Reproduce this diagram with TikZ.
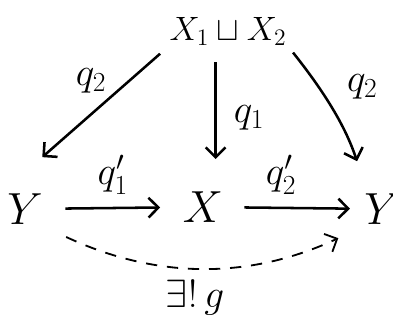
\RequirePackage{fix-cm}
\documentclass[tikz,border=0pt]{standalone}
\usepackage{amsmath,amssymb}
\usetikzlibrary{arrows.meta}
\tikzset{
  obj/.style={inner sep=2pt, font=\fontsize{32}{36}\selectfont},
  topobj/.style={inner sep=2pt, font=\fontsize{24}{28}\selectfont},
  lbl/.style={inner sep=1pt, font=\fontsize{28}{32}\selectfont},
  arr/.style={-{Straight Barb[length=7pt,width=14pt]}, line width=1.8pt}
}
\begin{document}
\begin{tikzpicture}[x=0.025cm, y=-0.025cm]
    \useasboundingbox (0,0) rectangle (393,322);

    % Objects
    \node[topobj] (top) at (228,31) {$X_1\sqcup X_2$};
    \node[obj] (yl) at (25,209) {$Y$};
    \node[obj] (x) at (203,207) {$X$};
    \node[obj] (yr) at (382,209) {$Y$};

    % Edges from the top
    \draw[arr, shorten <=6pt, shorten >=36pt] (top.south west) -- (yl.north west)
        node[lbl, midway, above=17pt, xshift=4pt] {$q_2$};
    \draw[arr, shorten <=10pt, shorten >=21pt] ([xshift=9pt]x.north |- top.south) -- ([xshift=9pt]x.north)
        node[lbl, midway, right=11pt] {$q_1$};
    \draw[arr, shorten <=4pt, shorten >=22pt] (top.south east) to[bend left=10]
        node[lbl, pos=0.45, above right=5pt, xshift=4pt] {$q_2$} ([xshift=4pt]yr.north west);

    % Bottom row
    \draw[arr, shorten <=14pt, shorten >=14pt] (yl) -- (x)
        node[lbl, midway, above=8pt] {$q_1'$};
    \draw[arr, shorten <=13pt, shorten >=8pt] (x) -- (yr)
        node[lbl, midway, above=8pt, xshift=-9pt] {$q_2'$};

    % Unique map
    \draw[arr, line width=1.3pt, dash pattern=on 8pt off 7pt, shorten <=16pt, shorten >=18pt]
        (yl.south east) to[out=-25, in=205]
        node[lbl, pos=0.5, below=8pt, xshift=-6pt] {$\exists!\,g$} (yr.south west);
\end{tikzpicture}
\end{document}
